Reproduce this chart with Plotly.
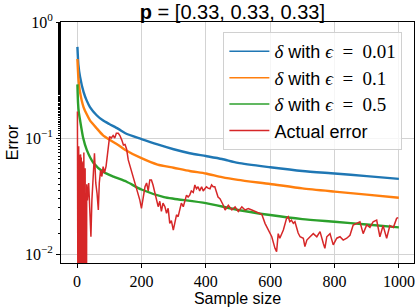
import plotly.graph_objects as go

# ---- data ----
delta_x = [1, 4, 9, 20, 30, 40, 60, 80, 100, 128, 150, 200, 250, 300, 350, 400, 450, 500, 600, 700, 800, 900, 1000]
delta_001 = [0.61, 0.43, 0.34, 0.25, 0.21, 0.185, 0.158, 0.142, 0.132, 0.12, 0.11, 0.098, 0.088, 0.08, 0.074,
             0.07, 0.066, 0.061, 0.056, 0.052, 0.0495, 0.047, 0.0445]
delta_01 = [0.48, 0.33, 0.25, 0.185, 0.16, 0.142, 0.122, 0.106, 0.097, 0.087, 0.079, 0.067, 0.059, 0.0555, 0.052,
            0.0495, 0.046, 0.0436, 0.0402, 0.0368, 0.0345, 0.0325, 0.0306]
green_x = [1, 3, 5, 9, 19, 30, 51, 82, 113, 154, 200, 270, 300, 400, 500, 600, 700, 800, 900, 1000]
delta_05 = [0.29, 0.2, 0.17, 0.144, 0.1, 0.079, 0.061, 0.051, 0.0465, 0.042, 0.036, 0.031, 0.030, 0.0275,
            0.024, 0.0217, 0.020, 0.019, 0.018, 0.017]

red_x = list(range(1, 29)) + [
    30, 32, 36, 40, 43, 46, 50, 54, 58, 62, 66, 69, 73, 77, 81, 85, 90, 94, 98, 101, 106, 112, 117, 122, 128,
    133, 139, 144, 149, 154, 159, 164, 169, 175, 180, 185, 190, 195, 200, 205, 211, 216, 221, 226, 231, 236,
    242, 247, 252, 257, 262, 267, 273, 278, 283, 288, 293, 299, 304, 309, 314, 319, 324, 330, 335, 340, 345,
    350, 355, 361, 366, 371, 376, 381, 387, 392, 397, 402, 407, 413, 418, 423, 428, 433, 438, 444, 449, 454,
    460, 470, 481, 491, 501, 512, 522, 532, 543, 553, 563, 574, 584, 594, 605, 615, 620, 625, 630, 641, 651,
    656, 661, 666, 672, 677, 683, 687, 693, 703, 708, 714, 724, 734, 745, 755, 765, 770, 776, 786, 796, 807,
    817, 827, 838, 848, 858, 869, 879, 889, 900, 910, 920, 931, 936, 941, 951, 962, 972, 983, 993, 998]
red_err = [0.169, 0, 0.11, 0, 0.085, 0, 0.08, 0, 0.07, 0, 0.072, 0, 0.068, 0, 0.065, 0, 0.06, 0, 0.063, 0,
           0.075, 0, 0.07, 0, 0.055, 0, 0.047, 0] + [
    0.04, 0.029, 0.041, 0.024, 0.0141, 0.029, 0.0466, 0.074, 0.041, 0.0334, 0.024, 0.041, 0.053, 0.0466,
    0.0568, 0.05, 0.057, 0.0716, 0.09, 0.103, 0.1, 0.105, 0.1, 0.11, 0.11, 0.105, 0.096, 0.087, 0.088, 0.08,
    0.0648, 0.058, 0.053, 0.046, 0.041, 0.037, 0.0334, 0.0292, 0.0248, 0.0313, 0.038, 0.041, 0.035, 0.0435,
    0.0435, 0.0394, 0.034, 0.0303, 0.0256, 0.0285, 0.0233, 0.0275, 0.0256, 0.0225, 0.0248, 0.0184, 0.0194,
    0.0161, 0.019, 0.0218, 0.021, 0.0248, 0.0275, 0.0256, 0.0292, 0.0322, 0.031, 0.0322, 0.035, 0.034,
    0.0394, 0.0365, 0.038, 0.035, 0.038, 0.035, 0.0365, 0.038, 0.037, 0.0365, 0.0394, 0.038, 0.038, 0.034,
    0.031, 0.030, 0.0283, 0.0265, 0.024, 0.0263, 0.024, 0.0255, 0.0233, 0.0255, 0.024, 0.0247, 0.024,
    0.0233, 0.0225, 0.022, 0.0184, 0.0161, 0.0141, 0.0112, 0.0105, 0.015, 0.0137, 0.0161, 0.0203, 0.021,
    0.019, 0.0196, 0.0184, 0.019, 0.0161, 0.0152, 0.0141, 0.0137, 0.0116, 0.0132, 0.0141, 0.015, 0.0141,
    0.0156, 0.0124, 0.0112, 0.0141, 0.015, 0.012, 0.0137, 0.0141, 0.0132, 0.0137, 0.0145, 0.0178, 0.0184,
    0.019, 0.015, 0.0178, 0.017, 0.019, 0.0196, 0.017, 0.0141, 0.0176, 0.0137, 0.0176, 0.017, 0.0203, 0.0206]

series_names_eps = ["0.01", "0.1", "0.5"]
x_ticks = [0, 200, 400, 600, 800, 1000]
y_ticks = [1, 0.1, 0.01]
y_ticktext = ["10<sup>0</sup>", "10<sup>−1</sup>", "10<sup>−2</sup>"]

# zeros cannot be shown on a log axis: draw them at a floor far below the visible range
red_plot = [v if v > 0 else 1e-4 for v in red_err]

SERIF = "Liberation Serif"
SANS = "Liberation Sans"
COLORS = ["#1f77b4", "#ff7f0e", "#2ca02c", "#d62728"]


def lbl(eps):
    return (f"<span style='font-family:{SERIF};font-size:19px'><i>δ</i></span> with "
            f"<span style='font-family:{SERIF};font-size:19px'><i>ϵ</i>&nbsp; =&nbsp; {eps}</span>")


fig = go.Figure()
curves = [(delta_x, delta_001), (delta_x, delta_01), (green_x, delta_05)]
for (xs, ys), c in zip(curves, COLORS[:3]):
    fig.add_trace(go.Scatter(x=xs, y=ys, mode="lines", showlegend=False,
                             line=dict(color=c, width=2.4, shape="spline", smoothing=0.6)))
fig.add_trace(go.Scatter(x=red_x, y=red_plot, mode="lines", showlegend=False,
                         line=dict(color=COLORS[3], width=1.5)))
# legend entries (thin lines, as in the reference legend)
for eps, c in zip(series_names_eps, COLORS[:3]):
    fig.add_trace(go.Scatter(x=[None], y=[None], mode="lines", name=lbl(eps),
                             line=dict(color=c, width=1.5)))
fig.add_trace(go.Scatter(x=[None], y=[None], mode="lines", name="Actual error",
                         line=dict(color=COLORS[3], width=1.5)))

fig.update_layout(
    width=415, height=307,
    margin=dict(l=61, r=1, t=22, b=44),
    paper_bgcolor="white", plot_bgcolor="white",
    font=dict(family=SANS, size=16, color="black"),
    title=dict(text="<b>p</b> = [0.33, 0.33, 0.33]", x=0.56, xanchor="center", y=0.96, yanchor="middle",
               font=dict(family=SANS, size=20, color="black")),
    legend=dict(x=0.46, y=0.958, xanchor="left", yanchor="top",
                bgcolor="rgba(255,255,255,0.8)", bordercolor="#d0d0d0", borderwidth=1,
                font=dict(family=SANS, size=18), tracegroupgap=0, itemwidth=40),
    showlegend=True,
)
fig.update_xaxes(range=[-50, 1047], tickvals=x_ticks, ticktext=[str(t) for t in x_ticks],
                 tickfont=dict(family=SERIF, size=16), showgrid=True, gridcolor="#d3d3d3", gridwidth=1,
                 zeroline=False, showline=True, mirror=True, linecolor="black", linewidth=1,
                 ticks="outside", ticklen=4, tickcolor="black",
                 title=dict(text="Sample size", font=dict(family=SANS, size=16), standoff=2))
fig.update_yaxes(type="log", range=[-2.077, 0], tickvals=y_ticks, ticktext=y_ticktext,
                 tickfont=dict(family=SERIF, size=16), showgrid=True, gridcolor="#d3d3d3", gridwidth=1,
                 zeroline=False, showline=True, mirror=True, linecolor="black", linewidth=1,
                 ticks="outside", ticklen=4, tickcolor="black",
                 minor=dict(ticks="outside", ticklen=2, tickcolor="black", showgrid=False),
                 title=dict(text="Error", font=dict(family=SANS, size=16), standoff=2))

fig.write_html("out.html", config={"displayModeBar": False},
               post_script="document.body.style.margin='0';document.body.style.padding='0';"
                           "document.body.style.overflow='hidden';")
